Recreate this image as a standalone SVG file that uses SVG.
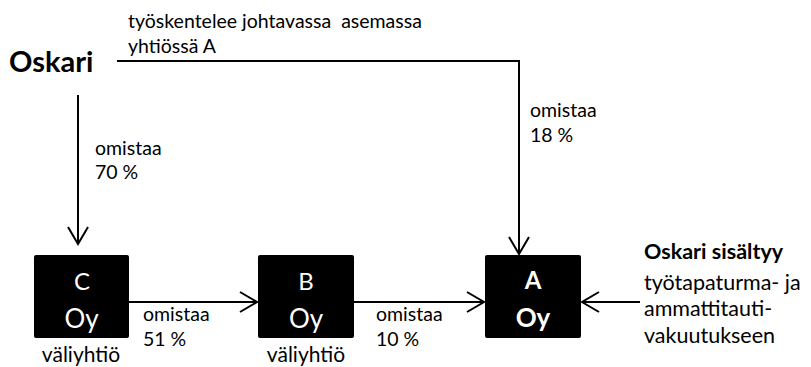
<svg xmlns="http://www.w3.org/2000/svg" width="811" height="367" viewBox="0 0 811 367">
<style>
text{font-family:Lato,"Open Sans","Liberation Sans",sans-serif;fill:#000}
.lbl{font-size:19.5px}
.box{fill:#000}
.bt{fill:#fff;font-size:24px;text-anchor:middle}
.oy{font-size:26px}
.sub{font-size:21px;text-anchor:middle}
.ln{stroke:#000;stroke-width:2;fill:none}
.ah{stroke:#000;stroke-width:2;fill:none}
</style>
<rect width="811" height="367" fill="#fff"/>
<g id="connectors">
<path class="ln" d="M117 61 H519 V254"/>
<path class="ah" d="M509 237 L519 254 L529 237"/>
<path class="ln" d="M78 95 V244"/>
<path class="ah" d="M68 227 L78 244 L88 227"/>
<path class="ln" d="M129 302 H257"/>
<path class="ah" d="M240 292 L257 302 L240 312"/>
<path class="ln" d="M354 302 H484"/>
<path class="ah" d="M467 292 L484 302 L467 312"/>
<path class="ln" d="M640 302 H582"/>
<path class="ah" d="M599 292 L582 302 L599 312"/>
<text class="lbl" x="128" y="28" font-size="19" xml:space="preserve">työskentelee johtavassa  asemassa</text>
<text class="lbl" x="128" y="53" font-size="19">yhtiössä A</text>
<text class="lbl" x="95" y="155">omistaa</text>
<text class="lbl" x="95" y="179">70 %</text>
<text class="lbl" x="530" y="117">omistaa</text>
<text class="lbl" x="530" y="142">18 %</text>
<text class="lbl" x="143" y="321">omistaa</text>
<text class="lbl" x="143" y="346">51 %</text>
<text class="lbl" x="376" y="321">omistaa</text>
<text class="lbl" x="376" y="346">10 %</text>
</g>
<g id="oskari">
<text x="9" y="72" font-size="29" font-weight="bold">Oskari</text>
</g>
<g id="C">
<rect class="box" x="34" y="255" width="95" height="83" rx="2"/>
<text class="bt" x="82" y="290">C</text>
<text class="bt oy" x="81.5" y="328">Oy</text>
<text class="sub" x="81" y="362">väliyhtiö</text>
</g>
<g id="B">
<rect class="box" x="258" y="255" width="96" height="83" rx="2"/>
<text class="bt" x="306" y="290">B</text>
<text class="bt oy" x="306" y="328">Oy</text>
<text class="sub" x="306" y="362">väliyhtiö</text>
</g>
<g id="A">
<rect class="box" x="485" y="255" width="96" height="83" rx="2"/>
<text class="bt" x="533" y="289" font-weight="bold">A</text>
<text class="bt oy" x="533" y="327" font-weight="bold">Oy</text>
</g>
<g id="note">
<text x="644" y="259" font-size="21.5" font-weight="bold">Oskari sisältyy</text>
<text x="644" y="290" font-size="21.5">työtapaturma- ja</text>
<text x="644" y="316" font-size="21.5">ammattitauti-</text>
<text x="644" y="343" font-size="21.5">vakuutukseen</text>
</g>
</svg>
